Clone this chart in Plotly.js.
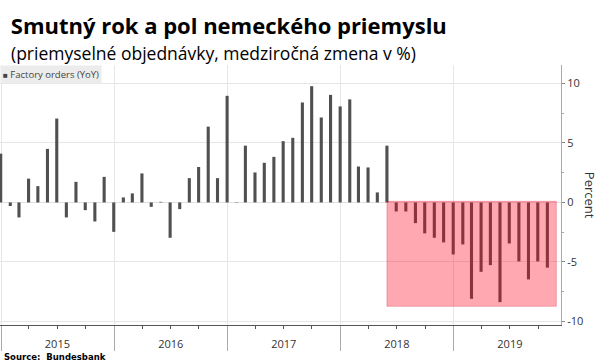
<!DOCTYPE html>
<html>
<head>
<meta charset="utf-8">
<script src="https://cdn.plot.ly/plotly-3.0.1.min.js"></script>
<style>
  html, body { margin: 0; padding: 0; background: #fff; }
  #chart { width: 600px; height: 362px; }
</style>
</head>
<body>
<div id="chart"></div>
<script>
// Monthly periods (bars are placed at month end, Bloomberg style)
const months = [
  '2014-12',
  '2015-01','2015-02','2015-03','2015-04','2015-05','2015-06','2015-07','2015-08','2015-09','2015-10','2015-11','2015-12',
  '2016-01','2016-02','2016-03','2016-04','2016-05','2016-06','2016-07','2016-08','2016-09','2016-10','2016-11','2016-12',
  '2017-01','2017-02','2017-03','2017-04','2017-05','2017-06','2017-07','2017-08','2017-09','2017-10','2017-11','2017-12',
  '2018-01','2018-02','2018-03','2018-04','2018-05','2018-06','2018-07','2018-08','2018-09','2018-10','2018-11','2018-12',
  '2019-01','2019-02','2019-03','2019-04','2019-05','2019-06','2019-07','2019-08','2019-09','2019-10'
];
// Factory orders, YoY % change
const factoryOrders = [
  4.1,
  -0.3, -1.26, 2.0, 1.37, 4.5, 7.05, -1.26, 1.73, -0.65, -1.6, 2.15, -2.47,
  0.42, 0.76, 2.44, -0.37, 0.05, -2.97, -0.56, 2.04, 2.98, 6.37, 2.04, 8.96,
  0.03, 4.77, 2.52, 3.33, 3.83, 5.15, 5.43, 8.4, 9.77, 7.14, 9.04, 8.07,
  8.66, 3.02, 2.94, 0.84, 4.77, -0.76, -0.76, -1.74, -2.6, -2.97, -3.36, -4.37,
  -3.53, -8.1, -5.83, -5.27, -8.38, -3.45, -4.96, -6.47, -4.96, -5.48
];
const yearLabels = ['2015', '2016', '2017', '2018', '2019'];
const yTicks = [-10, -5, 0, 5, 10];
const shadeStart = '2018-05';   // start of the highlighted "sad" period

function monthEnd(m) {
  const [y, mo] = m.split('-').map(Number);
  const d = new Date(Date.UTC(y, mo, 0));
  return d.toISOString().slice(0, 10);
}
const xDates = months.map(monthEnd);
const yearMid = yearLabels.map(y => y + '-07-02');

const DAY = 86400000;
const xRange = ['2014-12-28 18:00', '2019-12-14'];
const lastDate = new Date(xDates[xDates.length - 1] + 'T00:00:00Z');
const shadeEnd = new Date(lastDate.getTime() + 29 * DAY).toISOString().slice(0, 10);
const shadeBottom = Math.min(...factoryOrders) - 0.35;

const font = 'Open Sans, Noto Sans, sans-serif';

const data = [
  {
    type: 'bar',
    x: xDates,
    y: factoryOrders,
    width: 10 * DAY,
    marker: { color: '#505050', line: { width: 0 } },
    name: 'Factory orders (YoY)',
    showlegend: false,
    hoverinfo: 'x+y'
  },
  {
    type: 'scatter', mode: 'markers',
    x: [], y: [], xaxis: 'x2', yaxis: 'y',
    showlegend: false, hoverinfo: 'skip'
  }
];

const layout = {
  width: 600, height: 362,
  margin: { l: 0, r: 39, t: 65, b: 37, pad: 0 },
  paper_bgcolor: '#fff',
  plot_bgcolor: '#fff',
  font: { family: font, color: '#333' },
  title: {
    text: '<b>Smutný rok a pol nemeckého priemyslu</b>',
    font: { family: font, size: 22, color: '#000' },
    x: 0.018, xanchor: 'left', xref: 'container',
    y: 0.927, yanchor: 'middle', yref: 'container'
  },
  xaxis: {
    type: 'date',
    range: xRange,
    tick0: '2015-01-01', dtick: 'M12',
    ticks: 'outside', ticklen: 25, tickcolor: '#aaa', tickwidth: 1,
    showticklabels: false,
    showgrid: true, gridcolor: '#e6e6e6', gridwidth: 1,
    showline: true, linecolor: '#555', linewidth: 1,
    zeroline: false,
    minor: { tick0: '2015-01-01', dtick: 'M3', ticks: 'outside', ticklen: 3, tickcolor: '#555', showgrid: false }
  },
  xaxis2: {
    type: 'date',
    overlaying: 'x', anchor: 'y', side: 'bottom',
    range: xRange,
    tickmode: 'array', tickvals: yearMid, ticktext: yearLabels,
    ticks: '', showgrid: false, showline: false, zeroline: false,
    tickfont: { family: font, size: 11, color: '#333' },
    ticklabelstandoff: 11
  },
  yaxis: {
    side: 'right',
    range: [-10.3, 11.55],
    tickmode: 'array', tickvals: yTicks, ticktext: yTicks.map(String),
    ticks: 'outside', ticklen: 3, tickcolor: '#888',
    tickfont: { family: font, size: 11, color: '#333' },
    showgrid: true, gridcolor: '#e6e6e6',
    zeroline: true, zerolinecolor: '#e0e0e0', zerolinewidth: 1,
    showline: true, linecolor: '#aaa', linewidth: 1,
    minor: { dtick: 2.5, ticks: 'outside', ticklen: 2, tickcolor: '#aaa', showgrid: false }
  },
  shapes: [
    {
      type: 'rect', layer: 'above',
      xref: 'x', yref: 'y',
      x0: monthEnd(shadeStart), x1: shadeEnd,
      y0: 0.1, y1: shadeBottom,
      fillcolor: 'rgba(255,0,30,0.34)',
      line: { color: 'rgba(200,0,30,0.25)', width: 1 }
    }
  ],
  annotations: [
    {
      text: '(priemyselné objednávky, medziročná zmena v %)',
      xref: 'paper', yref: 'paper', x: 0.016, y: 1.046,
      xanchor: 'left', yanchor: 'middle', showarrow: false,
      font: { family: font, size: 17.5, color: '#000' }
    },
    {
      text: '<span style="font-size:8px">■</span> Factory orders (YoY)',
      xref: 'paper', yref: 'paper', x: 0, y: 1,
      xanchor: 'left', yanchor: 'top', showarrow: false,
      bgcolor: '#ececec', borderpad: 2,
      font: { family: font, size: 9.5, color: '#444' }
    },
    {
      text: 'Percent',
      xref: 'paper', yref: 'paper', x: 1.052, y: 0.5,
      xanchor: 'center', yanchor: 'middle', showarrow: false,
      textangle: 90,
      font: { family: font, size: 13, color: '#333' }
    },
    {
      text: '<b>Source:  Bundesbank</b>',
      xref: 'paper', yref: 'paper', x: 0.004, y: -0.124,
      xanchor: 'left', yanchor: 'middle', showarrow: false,
      font: { family: 'DejaVu Sans, Verdana, sans-serif', size: 8.5, color: '#000' }
    }
  ]
};

Plotly.newPlot('chart', data, layout, { staticPlot: true, displayModeBar: false });
</script>
</body>
</html>
